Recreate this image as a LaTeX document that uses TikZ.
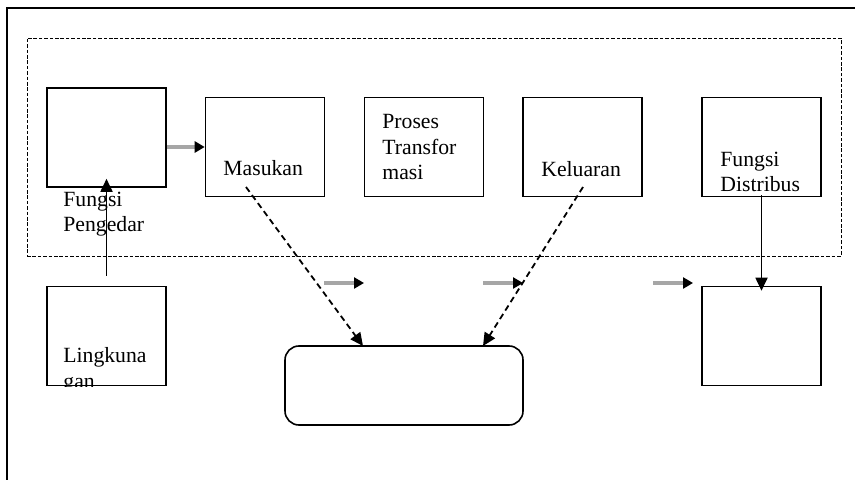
\documentclass[tikz,border=0pt]{standalone}
\usepackage{fontspec}
\setmainfont{Liberation Serif}
\usetikzlibrary{arrows.meta, calc}

\begin{document}
\begin{tikzpicture}[x=0.5pt, y=-0.5pt,
        kotak/.style={draw, line width=0.8pt, inner sep=0, minimum width=59.5pt, minimum height=49.5pt},
        teks/.style={anchor=base west, inner sep=0, align=left, font=\fontsize{10.85}{12.8}\selectfont},
        panah/.style={line width=0.9pt, -{Triangle[length=6.5pt, width=6pt]}},
        putus/.style={line width=0.9pt, dash pattern=on 3pt off 2pt, -{Triangle[length=6.5pt, width=6pt]}},
        abu/.style={line width=1.6pt, gray!70, -{Triangle[length=5pt, width=5.5pt, color=black]}}]
        \useasboundingbox (0, 0) rectangle (855, 480);
        \draw[line width=0.9pt] (7, 480) -- (7, 8) -- (855, 8);
        \node(batas)[draw, line width=0.45pt, dash pattern=on 1.8pt off 0.9pt, inner sep=0,
            minimum width=407pt, minimum height=109pt] at (434, 147) {};
        \node(pengedar)[kotak] at (106.5, 137.5) {};
        \node(masukan)[kotak] at (265, 147) {};
        \node(proses)[kotak] at (424, 147) {};
        \node(keluaran)[kotak] at (582.5, 147) {};
        \node(distribusi)[kotak] at (761.5, 147) {};
        \node(lingkungan)[kotak] at (106.5, 336) {};
        \node(tujuan)[kotak] at (761.5, 336) {};
        \node(umpan)[draw, line width=0.8pt, rounded corners=7pt, inner sep=0,
            minimum width=119pt, minimum height=39.5pt] at (404, 385.5) {};
        % multi-line text: base is the last line
        \node(tpengedar)[teks] at (63, 232) {Fungsi\\Pengedar};
        \node(tmasukan)[teks] at (223, 176) {Masukan};
        \node(tproses)[teks] at (382, 180) {Proses\\Transfor\\masi};
        \node(tkeluaran)[teks] at (541, 177) {Keluaran};
        \node(tdistribusi)[teks] at (720, 192) {Fungsi\\Distribus};
        \begin{scope}
            \clip (lingkungan.south west) rectangle (lingkungan.north east);
            \node(tlingkungan)[teks] at (63, 388) {Lingkuna\\gan};
        \end{scope}
        \coordinate(m1) at (246, 187);
        \coordinate(m2) at (363, 346);
        \coordinate(k1) at (583, 187);
        \coordinate(k2) at (483, 346);
        \coordinate(a1) at (324, 283);
        \coordinate(a2) at (364, 283);
        \coordinate(b1) at (483, 283);
        \coordinate(b2) at (523, 283);
        \coordinate(c1) at (653, 283);
        \coordinate(c2) at (693, 283);
        \draw[abu] (pengedar.east |- masukan.west) -- (masukan.west);
        \draw[panah] ([yshift=5pt]lingkungan.north) -- ([yshift=4.5pt]pengedar.south);
        \draw[panah] ([yshift=1pt]distribusi.south) -- ([yshift=-2.5pt]tujuan.north);
        \draw[putus] (m1) -- (m2);
        \draw[putus] (k1) -- (k2);
        \draw[abu] (a1) -- (a2);
        \draw[abu] (b1) -- (b2);
        \draw[abu] (c1) -- (c2);
\end{tikzpicture}
\end{document}
